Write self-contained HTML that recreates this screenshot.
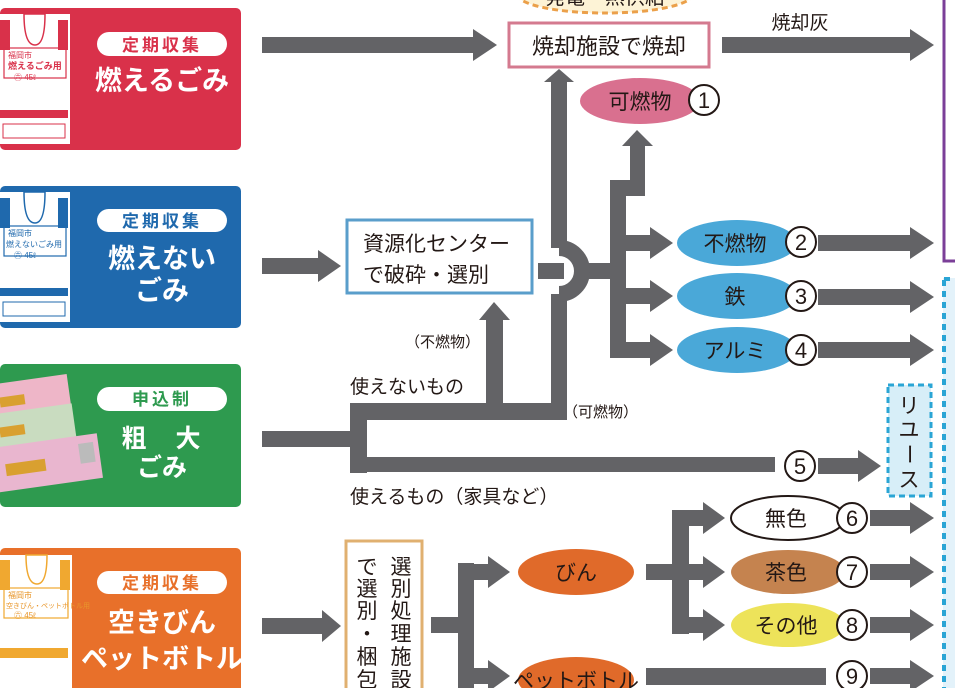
<!DOCTYPE html>
<html><head><meta charset="utf-8"><style>
html,body{margin:0;padding:0;background:#fff;}
svg{display:block;}
text{font-family:"Liberation Sans","Noto Sans CJK JP",sans-serif;}
</style></head><body>
<svg width="955" height="688" viewBox="0 0 955 688" xmlns="http://www.w3.org/2000/svg">
<!-- right side boxes -->
<rect x="943" y="278" width="20" height="420" fill="#e3f2fa"/>
<line x1="944" y1="280" x2="944" y2="688" stroke="#2aa5d5" stroke-width="4" stroke-dasharray="6,5"/>
<line x1="944" y1="279" x2="960" y2="279" stroke="#2aa5d5" stroke-width="4" stroke-dasharray="6,5"/>
<rect x="944" y="-5" width="20" height="266" fill="#fff" stroke="#7b3f98" stroke-width="3"/>

<!-- top dashed oval -->
<ellipse cx="605" cy="-6" rx="88" ry="19" fill="#fdf3d6" stroke="#eba04a" stroke-width="3" stroke-dasharray="6,4"/>
<text x="605" y="4" font-size="20" text-anchor="middle" fill="#231815">発電・熱供給</text>

<!-- left panels -->
<rect x="0" y="8" width="241" height="142" rx="5" fill="#d9314a"/>
<rect x="0" y="186" width="241" height="142" rx="5" fill="#1f69ad"/>
<rect x="0" y="364" width="241" height="143" rx="5" fill="#2e9a4f"/>
<rect x="0" y="548" width="241" height="150" rx="5" fill="#e8702a"/>

<!-- bags -->
<g>
<rect x="0" y="14" width="70" height="130" fill="#fff"/>
<rect x="0" y="20" width="10" height="30" fill="#d9314a"/><rect x="58" y="20" width="10" height="30" fill="#d9314a"/>
<path d="M24 14 Q24 45 35 45 Q45 45 45 14Z" fill="#fff" stroke="#d9314a" stroke-width="1.5"/>
<rect x="4" y="48" width="62" height="30" fill="none" stroke="#d9314a" stroke-width="1.2"/>
<text x="8" y="58" font-size="8" fill="#d9314a">福岡市</text>
<text x="8" y="69" font-size="9" fill="#d9314a" font-weight="bold">燃えるごみ用</text>
<text x="14" y="80" font-size="8" fill="#d9314a">㊅ 45ℓ</text>
<rect x="0" y="110" width="68" height="8" fill="#d9314a"/>
<rect x="3" y="124" width="62" height="14" fill="none" stroke="#d9314a"/>
</g>
<g>
<rect x="0" y="192" width="70" height="130" fill="#fff"/>
<rect x="0" y="198" width="10" height="30" fill="#1f69ad"/><rect x="58" y="198" width="10" height="30" fill="#1f69ad"/>
<path d="M24 192 Q24 223 35 223 Q45 223 45 192Z" fill="#fff" stroke="#1f69ad" stroke-width="1.5"/>
<rect x="4" y="226" width="62" height="30" fill="none" stroke="#1f69ad" stroke-width="1.2"/>
<text x="8" y="236" font-size="8" fill="#1f69ad">福岡市</text>
<text x="6" y="247" font-size="8" fill="#1f69ad">燃えないごみ用</text>
<text x="14" y="258" font-size="8" fill="#1f69ad">㊅ 45ℓ</text>
<rect x="0" y="288" width="68" height="8" fill="#1f69ad"/>
<rect x="3" y="302" width="62" height="14" fill="none" stroke="#1f69ad"/>
</g>
<g>
<g transform="rotate(-8 40 400)"><rect x="-10" y="378" width="80" height="35" fill="#eeb6c8"/><rect x="0" y="392" width="25" height="10" fill="#d9a030"/></g>
<g transform="rotate(-8 40 430)"><rect x="-10" y="408" width="85" height="35" fill="#c9dcc0"/><rect x="0" y="422" width="25" height="10" fill="#d9a030"/></g>
<g transform="rotate(-8 50 460)"><rect x="-5" y="440" width="105" height="45" fill="#e9b6cf"/><rect x="5" y="458" width="40" height="12" fill="#d9a030"/><rect x="80" y="448" width="15" height="20" fill="#bbb"/></g>
</g>
<g>
<rect x="0" y="555" width="72" height="133" fill="#fff"/>
<rect x="0" y="560" width="10" height="30" fill="#f0a830"/><rect x="60" y="560" width="10" height="30" fill="#f0a830"/>
<path d="M26 555 Q26 584 37 584 Q47 584 47 555Z" fill="#fff" stroke="#f0a830" stroke-width="1.5"/>
<rect x="4" y="588" width="64" height="30" fill="none" stroke="#f0a830" stroke-width="1.2"/>
<text x="8" y="598" font-size="8" fill="#e8962a">福岡市</text>
<text x="6" y="608" font-size="7" fill="#e8962a">空きびん・ペットボトル用</text>
<text x="14" y="618" font-size="8" fill="#e8962a">㊅ 45ℓ</text>
<rect x="0" y="648" width="68" height="10" fill="#f0a830"/>
</g>

<!-- panel labels -->
<g font-weight="bold">
<rect x="97" y="32" width="130" height="24" rx="12" fill="#fff"/>
<text x="162" y="51" font-size="17" text-anchor="middle" fill="#d9314a" letter-spacing="3">定期収集</text>
<text x="162" y="90" font-size="27" text-anchor="middle" fill="#fff">燃えるごみ</text>

<rect x="97" y="209" width="130" height="23" rx="11.5" fill="#fff"/>
<text x="162" y="227" font-size="17" text-anchor="middle" fill="#1f69ad" letter-spacing="3">定期収集</text>
<text x="162" y="268" font-size="27" text-anchor="middle" fill="#fff">燃えない</text>
<text x="162" y="300" font-size="27" text-anchor="middle" fill="#fff">ごみ</text>

<rect x="97" y="387" width="130" height="24" rx="12" fill="#fff"/>
<text x="162" y="405" font-size="17" text-anchor="middle" fill="#2e9a4f" letter-spacing="3">申込制</text>
<text x="162" y="447" font-size="25" text-anchor="middle" fill="#fff" letter-spacing="2">粗　大</text>
<text x="162" y="476" font-size="25" text-anchor="middle" fill="#fff">ごみ</text>

<rect x="97" y="571" width="130" height="23" rx="11.5" fill="#fff"/>
<text x="162" y="589" font-size="17" text-anchor="middle" fill="#e8702a" letter-spacing="3">定期収集</text>
<text x="162" y="632" font-size="27" text-anchor="middle" fill="#fff">空きびん</text>
<text x="162" y="668" font-size="27" text-anchor="middle" fill="#fff">ペットボトル</text>
</g>

<g fill="#636366">
<polygon points="262,37 473,37 473,29 497,45 473,61 473,53 262,53"/>
<polygon points="722,37 910,37 910,29 934,45 910,61 910,53 722,53"/>
<polygon points="262,258 318,258 318,250 341,266 318,282 318,274 262,274"/>
<rect x="262" y="431" width="100" height="16"/>
<rect x="350" y="403" width="17" height="70"/>
<rect x="350" y="403" width="217" height="17"/>
<rect x="350" y="457" width="425" height="15"/>
<rect x="486" y="318" width="17" height="90"/>
<polygon points="479,320 494,302 510,320"/>
<!-- vertical with bump -->
<rect x="551" y="80" width="16" height="168"/>
<rect x="551" y="294" width="16" height="116"/>
<polygon points="544,82 559,69 574,82"/>
<!-- from 資源化 right -->
<rect x="538" y="263" width="26" height="16"/>
<rect x="584" y="263" width="28" height="16"/>
<rect x="610" y="180" width="16" height="177"/>
<rect x="610" y="180" width="35" height="16"/>
<rect x="630" y="140" width="15" height="55"/>
<polygon points="622,146 637,130 653,146"/>
<polygon points="610,235 650,235 650,227 673,243 650,259 650,251 610,251"/>
<polygon points="610,288 650,288 650,280 673,296 650,312 650,304 610,304"/>
<polygon points="610,342 650,342 650,334 673,350 650,366 650,358 610,358"/>
<polygon points="818,235 910,235 910,227 934,243 910,259 910,251 818,251"/>
<polygon points="818,289 910,289 910,281 934,297 910,313 910,305 818,305"/>
<polygon points="818,342 910,342 910,334 934,350 910,366 910,358 818,358"/>
<polygon points="818,458 858,458 858,450 881,466 858,482 858,474 818,474"/>
<polygon points="262,618 322,618 322,610 341,626 322,642 322,634 262,634"/>
<rect x="431" y="617" width="40" height="16"/>
<rect x="458" y="563" width="16" height="130"/>
<polygon points="458,564 488,564 488,556 510,572 488,588 488,580 458,580"/>
<polygon points="458,668 488,668 488,660 510,676 488,692 488,684 458,684"/>
<rect x="646" y="564" width="40" height="16"/>
<rect x="672" y="510" width="17" height="124"/>
<polygon points="672,510 703,510 703,502 725,518 703,534 703,526 672,526"/>
<polygon points="672,564 703,564 703,556 725,572 703,588 703,580 672,580"/>
<polygon points="672,617 703,617 703,609 725,625 703,641 703,633 672,633"/>
<rect x="646" y="668" width="180" height="17"/>
<polygon points="870,510 910,510 910,502 934,518 910,534 910,526 870,526"/>
<polygon points="870,564 910,564 910,556 934,572 910,588 910,580 870,580"/>
<polygon points="870,617 910,617 910,609 934,625 910,641 910,633 870,633"/>
<polygon points="870,668 910,668 910,660 934,676 910,692 910,684 870,684"/>
</g>
<path d="M559 248 A23 23 0 0 1 559 294" fill="none" stroke="#636366" stroke-width="16"/>

<!-- boxes -->
<rect x="509" y="23" width="200" height="44" fill="#fff" stroke="#d47a8f" stroke-width="3"/>
<text x="609" y="54" font-size="22" text-anchor="middle" fill="#231815">焼却施設で焼却</text>
<text x="800" y="29" font-size="19" text-anchor="middle" fill="#231815">焼却灰</text>

<rect x="347" y="220" width="185" height="73" fill="#fff" stroke="#5a9ecb" stroke-width="3"/>
<text x="363" y="251" font-size="21" fill="#231815">資源化センター</text>
<text x="363" y="282" font-size="21" fill="#231815">で破砕・選別</text>

<text x="405" y="347" font-size="15" fill="#231815">（不燃物）</text>
<text x="350" y="393" font-size="19" fill="#231815">使えないもの</text>
<text x="563" y="417" font-size="15" fill="#231815">（可燃物）</text>
<text x="350" y="503" font-size="19" fill="#231815">使えるもの（家具など）</text>

<rect x="888" y="385" width="43" height="111" fill="#d7eef8" stroke="#2aa5d5" stroke-width="3" stroke-dasharray="6,4"/>
<g font-size="21" fill="#231815" text-anchor="middle">
<text x="909" y="413">リ</text><text x="909" y="437">ユ</text><text x="909" y="461" transform="rotate(90 909 454)">ー</text><text x="909" y="487">ス</text>
</g>

<rect x="346" y="541" width="76" height="160" fill="#fff" stroke="#e0b070" stroke-width="3"/>
<g font-size="21" fill="#231815" text-anchor="middle">
<text x="401" y="574">選</text><text x="401" y="596">別</text><text x="401" y="618">処</text><text x="401" y="641">理</text><text x="401" y="664">施</text><text x="401" y="687">設</text>
<text x="367" y="574">で</text><text x="367" y="596">選</text><text x="367" y="618">別</text><text x="367" y="641">・</text><text x="367" y="664">梱</text><text x="367" y="687">包</text>
</g>

<ellipse cx="640" cy="101" rx="60" ry="23" fill="#d9708f"/>
<text x="640" y="109" font-size="21" text-anchor="middle" fill="#231815">可燃物</text>
<ellipse cx="737" cy="243" rx="60" ry="23" fill="#4aa8d8"/>
<text x="735" y="251" font-size="21" text-anchor="middle" fill="#231815">不燃物</text>
<ellipse cx="737" cy="296" rx="60" ry="23" fill="#4aa8d8"/>
<text x="735" y="304" font-size="21" text-anchor="middle" fill="#231815">鉄</text>
<ellipse cx="737" cy="350" rx="60" ry="23" fill="#4aa8d8"/>
<text x="735" y="358" font-size="21" text-anchor="middle" fill="#231815">アルミ</text>

<ellipse cx="576" cy="572" rx="58" ry="23" fill="#e06a2a"/>
<text x="576" y="580" font-size="21" text-anchor="middle" fill="#231815">びん</text>
<ellipse cx="576" cy="680" rx="58" ry="23" fill="#e06a2a"/>
<text x="576" y="688" font-size="21" text-anchor="middle" fill="#231815">ペットボトル</text>

<ellipse cx="788" cy="518" rx="57" ry="22" fill="#fff" stroke="#231815" stroke-width="2"/>
<text x="786" y="526" font-size="21" text-anchor="middle" fill="#231815">無色</text>
<ellipse cx="788" cy="572" rx="57" ry="22" fill="#c5834f"/>
<text x="786" y="580" font-size="21" text-anchor="middle" fill="#231815">茶色</text>
<ellipse cx="788" cy="625" rx="57" ry="22" fill="#ede35a"/>
<text x="786" y="633" font-size="21" text-anchor="middle" fill="#231815">その他</text>

<g fill="#fff" stroke="#231815" stroke-width="2">
<circle cx="704" cy="100" r="15"/><circle cx="801" cy="242" r="15"/><circle cx="801" cy="296" r="15"/><circle cx="801" cy="350" r="15"/>
<circle cx="800" cy="466" r="15"/><circle cx="852" cy="518" r="15"/><circle cx="852" cy="572" r="15"/><circle cx="852" cy="625" r="15"/><circle cx="852" cy="676" r="15"/>
</g>
<g font-size="22" text-anchor="middle" fill="#231815">
<text x="704" y="108">1</text><text x="801" y="250">2</text><text x="801" y="304">3</text><text x="801" y="358">4</text>
<text x="800" y="474">5</text><text x="852" y="526">6</text><text x="852" y="580">7</text><text x="852" y="633">8</text><text x="852" y="684">9</text>
</g>
</svg>
</body></html>
